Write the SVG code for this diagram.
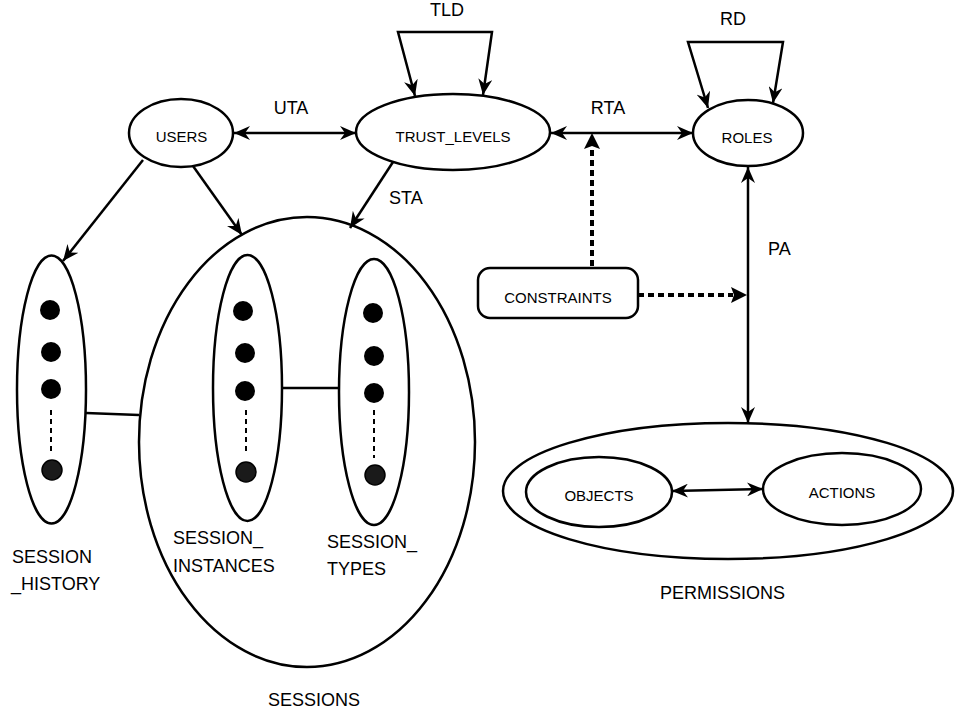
<svg xmlns="http://www.w3.org/2000/svg" width="955" height="715" viewBox="0 0 955 715">
<style>
.shape{fill:#fff;stroke:#000;stroke-width:2.5}
.node{font-family:"Liberation Sans",Arial,sans-serif;font-size:15px;fill:#000;text-anchor:middle}
.lbl{font-family:"Liberation Sans",Arial,sans-serif;font-size:18px;fill:#000}
.edge{fill:none;stroke:#000;stroke-width:2.5}
.dot{fill:none;stroke:#000;stroke-width:4;stroke-dasharray:6 4}
.thin{fill:none;stroke:#000;stroke-width:2;stroke-dasharray:5 4}
.pt{fill:#000}
.pt2{fill:#1a1a1a;stroke:#000;stroke-width:1.5}
</style>
<defs>
<marker id="arr" viewBox="0 0 16 14" refX="16" refY="7" markerWidth="16" markerHeight="14" markerUnits="userSpaceOnUse" orient="auto-start-reverse">
<path d="M0,0 L16,7 L0,14 L5,7 z" fill="#000"/>
</marker>
</defs>
<rect width="955" height="715" fill="#fff"/>

<g id="sessions">
<ellipse class="shape" cx="307" cy="442" rx="168" ry="225"/>
<text class="lbl" x="314" y="706" text-anchor="middle">SESSIONS</text>
</g>

<g id="session_history">
<ellipse class="shape" cx="51.5" cy="389.5" rx="34.5" ry="134"/>
<circle class="pt" cx="50" cy="310" r="10"/>
<circle class="pt" cx="51" cy="352" r="10"/>
<circle class="pt" cx="51" cy="389" r="10"/>
<line class="thin" x1="51" y1="410" x2="51" y2="455"/>
<circle class="pt2" cx="52" cy="470" r="10"/>
<text class="lbl" x="12" y="563">SESSION</text>
<text class="lbl" x="11" y="590">_HISTORY</text>
</g>

<g id="session_instances">
<ellipse class="shape" cx="247.5" cy="388" rx="34.5" ry="133"/>
<circle class="pt" cx="243" cy="311" r="10"/>
<circle class="pt" cx="245" cy="353" r="10"/>
<circle class="pt" cx="245" cy="391" r="10"/>
<line class="thin" x1="246" y1="410" x2="246" y2="455"/>
<circle class="pt2" cx="246" cy="472" r="10"/>
<text class="lbl" x="173" y="544">SESSION_</text>
<text class="lbl" x="173" y="572">INSTANCES</text>
</g>

<g id="session_types">
<ellipse class="shape" cx="374" cy="392" rx="35" ry="133"/>
<circle class="pt" cx="373" cy="313" r="10"/>
<circle class="pt" cx="374" cy="356" r="10"/>
<circle class="pt" cx="374" cy="393" r="10"/>
<line class="thin" x1="374" y1="410" x2="374" y2="458"/>
<circle class="pt2" cx="375" cy="475" r="10"/>
<text class="lbl" x="327" y="548">SESSION_</text>
<text class="lbl" x="327" y="575">TYPES</text>
</g>

<g id="users">
<ellipse class="shape" cx="181" cy="133" rx="52" ry="34"/>
<text class="node" x="181.5" y="142">USERS</text>
</g>

<g id="trust_levels">
<ellipse class="shape" cx="453" cy="132" rx="97" ry="38"/>
<text class="node" x="453" y="142">TRUST_LEVELS</text>
</g>

<g id="roles">
<ellipse class="shape" cx="748" cy="133" rx="55" ry="33"/>
<text class="node" x="747" y="143">ROLES</text>
</g>

<g id="constraints">
<rect class="shape" x="478" y="268" width="160" height="50" rx="12" ry="12"/>
<text class="node" x="558" y="303">CONSTRAINTS</text>
</g>

<g id="permissions">
<ellipse class="shape" cx="728" cy="491" rx="225" ry="68"/>
<text class="lbl" x="722.5" y="599" text-anchor="middle">PERMISSIONS</text>
</g>

<g id="objects">
<ellipse class="shape" cx="599" cy="492" rx="73" ry="35"/>
<text class="node" x="599" y="501">OBJECTS</text>
</g>

<g id="actions">
<ellipse class="shape" cx="842" cy="489" rx="79" ry="36"/>
<text class="node" x="842" y="498">ACTIONS</text>
</g>

<g id="connectors">
<line class="edge" x1="234" y1="133" x2="356" y2="133" marker-start="url(#arr)" marker-end="url(#arr)"/>
<line class="edge" x1="551" y1="133" x2="693" y2="133" marker-start="url(#arr)" marker-end="url(#arr)"/>
<path class="edge" d="M415,96 L398,32 L492,32 L483,95" marker-start="url(#arr)" marker-end="url(#arr)"/>
<path class="edge" d="M708,108 L688,42 L783,42 L773,103" marker-start="url(#arr)" marker-end="url(#arr)"/>
<line class="edge" x1="143" y1="160" x2="63" y2="261" marker-end="url(#arr)"/>
<line class="edge" x1="193" y1="166" x2="242" y2="235" marker-end="url(#arr)"/>
<line class="edge" x1="393" y1="162" x2="350" y2="228" marker-end="url(#arr)"/>
<line class="edge" x1="748" y1="167" x2="748" y2="423" marker-start="url(#arr)" marker-end="url(#arr)"/>
<line class="edge" x1="672" y1="491" x2="763" y2="489" marker-start="url(#arr)" marker-end="url(#arr)"/>
<line class="edge" x1="86" y1="413" x2="139" y2="415"/>
<line class="edge" x1="282" y1="388" x2="340" y2="388"/>
<line class="dot" x1="592" y1="266" x2="592" y2="149"/>
<path d="M592,133 L600,149 L592,146 L584,149 z" fill="#000"/>
<line class="dot" x1="638" y1="295" x2="733" y2="295"/>
<path d="M747,295 L731,303 L734,295 L731,287 z" fill="#000"/>
<text class="lbl" x="291" y="114" text-anchor="middle">UTA</text>
<text class="lbl" x="608" y="114" text-anchor="middle">RTA</text>
<text class="lbl" x="447" y="16" text-anchor="middle">TLD</text>
<text class="lbl" x="733" y="25" text-anchor="middle">RD</text>
<text class="lbl" x="389" y="204">STA</text>
<text class="lbl" x="768" y="255">PA</text>
</g>
</svg>
